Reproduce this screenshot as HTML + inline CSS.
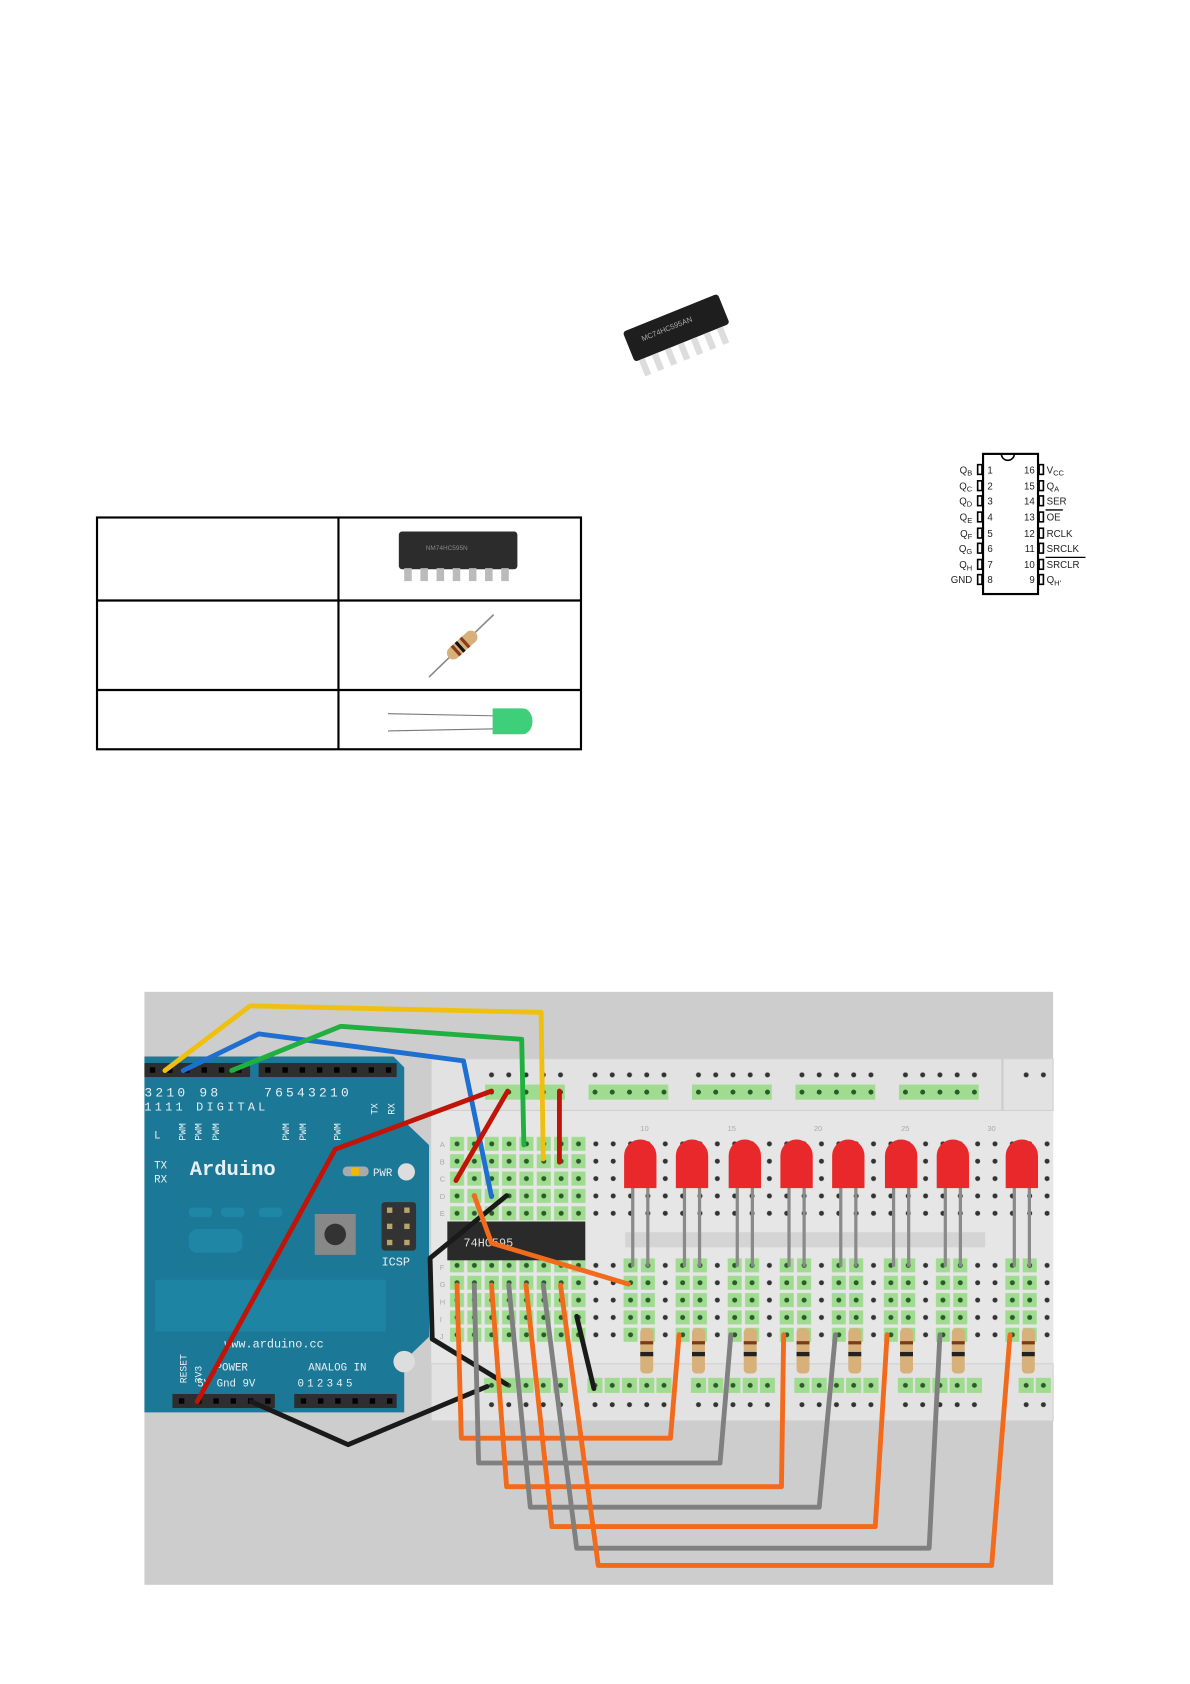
<!DOCTYPE html>
<html><head><meta charset="utf-8"><style>
html,body{margin:0;padding:0;background:#fff;}
svg{display:block}
</style></head><body>
<svg width="1190" height="1684" viewBox="0 0 1104 1562" preserveAspectRatio="none" xmlns="http://www.w3.org/2000/svg" font-family="Liberation Sans, sans-serif">
<defs>
<pattern id="holes" x="416" y="1053" width="16.1" height="16.1" patternUnits="userSpaceOnUse">
<circle cx="8" cy="8" r="2.3" fill="#333"/></pattern>
<pattern id="gh" x="416" y="1053" width="16.1" height="16.1" patternUnits="userSpaceOnUse">
<rect x="1.5" y="1.5" width="13" height="13" fill="#9fdc8f"/><circle cx="8" cy="8" r="2.3" fill="#2a5a2a"/></pattern>
<pattern id="rh" x="0" y="989" width="16" height="16.1" patternUnits="userSpaceOnUse">
<circle cx="8" cy="8" r="2.3" fill="#333"/></pattern>
<pattern id="rg" x="0" y="1278" width="16" height="14" patternUnits="userSpaceOnUse">
<rect x="1" y="0" width="14" height="14" fill="#9fdc8f"/><circle cx="8" cy="7" r="2.3" fill="#2a5a2a"/></pattern>
</defs>
<!-- table -->
<rect x="90" y="480" width="449" height="215" fill="none" stroke="#000" stroke-width="2"/>
<line x1="314" y1="480" x2="314" y2="695" stroke="#000" stroke-width="2"/>
<line x1="90" y1="557" x2="539" y2="557" stroke="#000" stroke-width="2"/>
<line x1="90" y1="640" x2="539" y2="640" stroke="#000" stroke-width="2"/>
<rect x="370" y="493" width="110" height="35" rx="3" fill="#2c2c2c"/>
<g fill="#bbb"><rect x="375" y="527" width="7" height="12"/><rect x="390" y="527" width="7" height="12"/><rect x="405" y="527" width="7" height="12"/><rect x="420" y="527" width="7" height="12"/><rect x="435" y="527" width="7" height="12"/><rect x="450" y="527" width="7" height="12"/><rect x="465" y="527" width="7" height="12"/></g>
<text x="395" y="510" font-size="6" fill="#888">NM74HC595N</text>
<line x1="398" y1="628" x2="458" y2="570" stroke="#888" stroke-width="1.5"/>
<g transform="rotate(-42 428 599)"><rect x="412" y="593" width="34" height="12" rx="6" fill="#d7b07a"/><rect x="420" y="593" width="3" height="12" fill="#8b3a1a"/><rect x="425" y="593" width="3" height="12" fill="#111"/><rect x="431" y="593" width="3" height="12" fill="#8b3a1a"/></g>
<line x1="360" y1="662" x2="460" y2="664" stroke="#777" stroke-width="1"/>
<line x1="360" y1="678" x2="460" y2="676" stroke="#777" stroke-width="1"/>
<path d="M457 657 H485 a9 12 0 0 1 0 24 H457 Z" fill="#3fcf7a"/>
<!-- chip photo top -->
<g transform="rotate(-22 625 305)">
<rect x="580" y="290" width="95" height="30" rx="3" fill="#1e1e1e"/>
<g fill="#ddd"><rect x="584" y="320" width="6" height="16"/><rect x="597" y="320" width="6" height="16"/><rect x="610" y="320" width="6" height="16"/><rect x="623" y="320" width="6" height="16"/><rect x="636" y="320" width="6" height="16"/><rect x="649" y="320" width="6" height="16"/><rect x="662" y="320" width="6" height="16"/></g>
<text x="594" y="305" font-size="7" fill="#aaa">MC74HC595AN</text></g>
<!-- pinout -->
<rect x="912" y="421" width="51" height="130" fill="#fff" stroke="#000" stroke-width="2"/>
<path d="M929 421 a6 6 0 0 0 12 0" fill="none" stroke="#000" stroke-width="1.5"/>
<g font-size="9" fill="#222">
<g stroke="#000" stroke-width="1.5" fill="none">
<rect x="907" y="431" width="4" height="9"/><rect x="907" y="446" width="4" height="9"/><rect x="907" y="460" width="4" height="9"/><rect x="907" y="475" width="4" height="9"/><rect x="907" y="490" width="4" height="9"/><rect x="907" y="504" width="4" height="9"/><rect x="907" y="519" width="4" height="9"/><rect x="907" y="533" width="4" height="9"/>
<rect x="964" y="431" width="4" height="9"/><rect x="964" y="446" width="4" height="9"/><rect x="964" y="460" width="4" height="9"/><rect x="964" y="475" width="4" height="9"/><rect x="964" y="490" width="4" height="9"/><rect x="964" y="504" width="4" height="9"/><rect x="964" y="519" width="4" height="9"/><rect x="964" y="533" width="4" height="9"/></g>
<text x="916" y="439">1</text><text x="916" y="454">2</text><text x="916" y="468">3</text><text x="916" y="483">4</text><text x="916" y="498">5</text><text x="916" y="512">6</text><text x="916" y="527">7</text><text x="916" y="541">8</text>
<g text-anchor="end"><text x="960" y="439">16</text><text x="960" y="454">15</text><text x="960" y="468">14</text><text x="960" y="483">13</text><text x="960" y="498">12</text><text x="960" y="512">11</text><text x="960" y="527">10</text><text x="960" y="541">9</text>
<text x="902" y="439">Q<tspan font-size="7" dy="2">B</tspan></text><text x="902" y="454">Q<tspan font-size="7" dy="2">C</tspan></text><text x="902" y="468">Q<tspan font-size="7" dy="2">D</tspan></text><text x="902" y="483">Q<tspan font-size="7" dy="2">E</tspan></text><text x="902" y="498">Q<tspan font-size="7" dy="2">F</tspan></text><text x="902" y="512">Q<tspan font-size="7" dy="2">G</tspan></text><text x="902" y="527">Q<tspan font-size="7" dy="2">H</tspan></text><text x="902" y="541">GND</text></g>
<text x="971" y="439">V<tspan font-size="7" dy="2">CC</tspan></text><text x="971" y="454">Q<tspan font-size="7" dy="2">A</tspan></text><text x="971" y="468">SER</text><text x="971" y="483">OE</text><text x="971" y="498">RCLK</text><text x="971" y="512">SRCLK</text><text x="971" y="527">SRCLR</text><text x="971" y="541">Q<tspan font-size="7" dy="2">H'</tspan></text>
<line x1="970" y1="473" x2="986" y2="473" stroke="#000" stroke-width="1.2"/><line x1="970" y1="517" x2="1007" y2="517" stroke="#000" stroke-width="1.2"/>
</g>
<!-- breadboard scene -->
<rect x="134" y="920" width="843" height="550" fill="#cdcdcd"/>
<rect x="400" y="982" width="577" height="336" fill="#e6e6e6"/>
<rect x="400" y="982" width="577" height="48" fill="#e2e2e2" stroke="#d0d0d0"/>
<line x1="930" y1="982" x2="930" y2="1030" stroke="#ccc" stroke-width="2"/>
<rect x="400" y="1265" width="577" height="53" fill="#e2e2e2" stroke="#d0d0d0"/>
<rect x="580" y="1143" width="334" height="14" fill="#d4d4d4"/>
<rect x="448" y="989" width="80" height="16" fill="url(#rh)"/><rect x="544" y="989" width="80" height="16" fill="url(#rh)"/><rect x="640" y="989" width="80" height="16" fill="url(#rh)"/><rect x="736" y="989" width="80" height="16" fill="url(#rh)"/><rect x="832" y="989" width="80" height="16" fill="url(#rh)"/><rect x="944" y="989" width="33" height="16" fill="url(#rh)"/>
<g fill="#9fdc8f"><rect x="450" y="1006" width="74" height="14"/><rect x="546" y="1006" width="74" height="14"/><rect x="642" y="1006" width="74" height="14"/><rect x="738" y="1006" width="74" height="14"/><rect x="834" y="1006" width="74" height="14"/></g>
<g fill="#2a5a2a">
<circle cx="456" cy="1013" r="2.3"/><circle cx="472" cy="1013" r="2.3"/><circle cx="488" cy="1013" r="2.3"/><circle cx="504" cy="1013" r="2.3"/><circle cx="520" cy="1013" r="2.3"/>
<circle cx="552" cy="1013" r="2.3"/><circle cx="568" cy="1013" r="2.3"/><circle cx="584" cy="1013" r="2.3"/><circle cx="600" cy="1013" r="2.3"/><circle cx="616" cy="1013" r="2.3"/>
<circle cx="648" cy="1013" r="2.3"/><circle cx="664" cy="1013" r="2.3"/><circle cx="680" cy="1013" r="2.3"/><circle cx="696" cy="1013" r="2.3"/><circle cx="712" cy="1013" r="2.3"/>
<circle cx="744" cy="1013" r="2.3"/><circle cx="760" cy="1013" r="2.3"/><circle cx="776" cy="1013" r="2.3"/><circle cx="792" cy="1013" r="2.3"/><circle cx="808" cy="1013" r="2.3"/>
<circle cx="840" cy="1013" r="2.3"/><circle cx="856" cy="1013" r="2.3"/><circle cx="872" cy="1013" r="2.3"/><circle cx="888" cy="1013" r="2.3"/><circle cx="904" cy="1013" r="2.3"/></g>
<rect x="448" y="1278" width="80" height="14" fill="url(#rg)"/><rect x="544" y="1278" width="80" height="14" fill="url(#rg)"/><rect x="640" y="1278" width="80" height="14" fill="url(#rg)"/><rect x="736" y="1278" width="80" height="14" fill="url(#rg)"/><rect x="832" y="1278" width="80" height="14" fill="url(#rg)"/><rect x="944" y="1278" width="33" height="14" fill="url(#rg)"/>
<rect x="448" y="1294" width="80" height="16" fill="url(#rh)"/><rect x="544" y="1294" width="80" height="16" fill="url(#rh)"/><rect x="640" y="1294" width="80" height="16" fill="url(#rh)"/><rect x="736" y="1294" width="80" height="16" fill="url(#rh)"/><rect x="832" y="1294" width="80" height="16" fill="url(#rh)"/><rect x="944" y="1294" width="33" height="16" fill="url(#rh)"/>
<rect x="416" y="1053" width="561" height="80" fill="url(#holes)"/>
<rect x="416" y="1166" width="561" height="81" fill="url(#holes)"/>
<rect x="416" y="1053" width="129" height="80" fill="url(#gh)"/>
<rect x="416" y="1166" width="129" height="81" fill="url(#gh)"/>
<g fill="url(#gh)">
<rect x="577" y="1166" width="32" height="81"/><rect x="625" y="1166" width="32" height="81"/><rect x="674" y="1166" width="32" height="81"/><rect x="722" y="1166" width="32" height="81"/><rect x="770" y="1166" width="32" height="81"/><rect x="819" y="1166" width="32" height="81"/><rect x="867" y="1166" width="32" height="81"/><rect x="931" y="1166" width="32" height="81"/></g>
<g font-size="7" fill="#aaa"><text x="408" y="1064">A</text><text x="408" y="1080">B</text><text x="408" y="1096">C</text><text x="408" y="1112">D</text><text x="408" y="1128">E</text><text x="408" y="1178">F</text><text x="408" y="1194">G</text><text x="408" y="1210">H</text><text x="408" y="1226">I</text><text x="408" y="1242">J</text>
<text x="594" y="1049">10</text><text x="675" y="1049">15</text><text x="755" y="1049">20</text><text x="836" y="1049">25</text><text x="916" y="1049">30</text></g>
<!-- arduino -->
<path d="M134 980 H365 L375 990 V1040 L398 1062 V1240 L375 1262 V1310 H134 Z" fill="#1b7896"/>
<rect x="134" y="986" width="98" height="13" fill="#2e2e2e"/><rect x="240" y="986" width="128" height="13" fill="#2e2e2e"/>
<rect x="160" y="1293" width="95" height="13" fill="#2e2e2e"/><rect x="273" y="1293" width="95" height="13" fill="#2e2e2e"/>
<g fill="#000"><rect x="139" y="990" width="5" height="5"/><rect x="155" y="990" width="5" height="5"/><rect x="171" y="990" width="5" height="5"/><rect x="187" y="990" width="5" height="5"/><rect x="203" y="990" width="5" height="5"/><rect x="219" y="990" width="5" height="5"/>
<rect x="246" y="990" width="5" height="5"/><rect x="262" y="990" width="5" height="5"/><rect x="278" y="990" width="5" height="5"/><rect x="294" y="990" width="5" height="5"/><rect x="310" y="990" width="5" height="5"/><rect x="326" y="990" width="5" height="5"/><rect x="342" y="990" width="5" height="5"/><rect x="358" y="990" width="5" height="5"/>
<rect x="166" y="1297" width="5" height="5"/><rect x="182" y="1297" width="5" height="5"/><rect x="198" y="1297" width="5" height="5"/><rect x="214" y="1297" width="5" height="5"/><rect x="230" y="1297" width="5" height="5"/><rect x="246" y="1297" width="5" height="5"/>
<rect x="279" y="1297" width="5" height="5"/><rect x="295" y="1297" width="5" height="5"/><rect x="311" y="1297" width="5" height="5"/><rect x="327" y="1297" width="5" height="5"/><rect x="343" y="1297" width="5" height="5"/><rect x="359" y="1297" width="5" height="5"/></g>
<rect x="144" y="1187" width="214" height="48" fill="#1d84a3"/>
<g fill="#1f86a5"><rect x="175" y="1120" width="22" height="9" rx="4"/><rect x="205" y="1120" width="22" height="9" rx="4"/><rect x="240" y="1120" width="22" height="9" rx="4"/><rect x="175" y="1140" width="50" height="22" rx="8"/></g>
<rect x="292" y="1126" width="38" height="38" fill="#888"/><circle cx="311" cy="1145" r="10" fill="#333"/>
<rect x="318" y="1082" width="24" height="9" rx="4" fill="#aaa"/><rect x="326" y="1083" width="7" height="7" fill="#f5b800"/>
<circle cx="377" cy="1087" r="8" fill="#ddd"/><circle cx="375" cy="1263" r="10" fill="#ddd"/>
<rect x="354" y="1115" width="32" height="45" rx="3" fill="#333"/>
<g fill="#b9a46a"><rect x="359" y="1120" width="5" height="5"/><rect x="375" y="1120" width="5" height="5"/><rect x="359" y="1135" width="5" height="5"/><rect x="375" y="1135" width="5" height="5"/><rect x="359" y="1150" width="5" height="5"/><rect x="375" y="1150" width="5" height="5"/></g>
<g fill="#e8f0f4" font-family="Liberation Mono, monospace">
<text x="134" y="1017" font-size="12" letter-spacing="3">3210 98</text>
<text x="245" y="1017" font-size="12" letter-spacing="3">76543210</text>
<text x="134" y="1030" font-size="11" letter-spacing="3">1111 DIGITAL</text>
<text x="176" y="1090" font-size="19" font-weight="bold">Arduino</text>
<text x="143" y="1084" font-size="10">TX</text><text x="143" y="1097" font-size="10">RX</text>
<text x="143" y="1056" font-size="10">L</text>
<text x="346" y="1091" font-size="10">PWR</text>
<text x="354" y="1174" font-size="11">ICSP</text>
<text x="208" y="1250" font-size="11">www.arduino.cc</text>
<text x="200" y="1271" font-size="10">POWER</text><text x="286" y="1271" font-size="10">ANALOG IN</text>
<text x="183" y="1286" font-size="10">5V Gnd 9V</text><text x="276" y="1286" font-size="10" letter-spacing="3">012345</text>
<g font-size="9"><text transform="translate(173,1283) rotate(-90)">RESET</text><text transform="translate(187,1283) rotate(-90)">3V3</text>
<text transform="translate(172,1058) rotate(-90)">PWM</text><text transform="translate(187,1058) rotate(-90)">PWM</text><text transform="translate(203,1058) rotate(-90)">PWM</text>
<text transform="translate(268,1058) rotate(-90)">PWM</text><text transform="translate(284,1058) rotate(-90)">PWM</text><text transform="translate(316,1058) rotate(-90)">PWM</text>
<text transform="translate(350,1034) rotate(-90)">TX</text><text transform="translate(366,1034) rotate(-90)">RX</text></g>
</g>
<rect x="415" y="1133" width="128" height="36" fill="#2a2a2a"/>
<text x="430" y="1156" font-size="11" fill="#ddd" font-family="Liberation Mono, monospace">74HC595</text>
<g stroke="#8a8a8a" stroke-width="3" fill="none">
<path d="M587 1100 V1175 M601 1100 V1175"/><path d="M635 1100 V1175 M649 1100 V1175"/><path d="M684 1100 V1175 M698 1100 V1175"/><path d="M732 1100 V1175 M746 1100 V1175"/><path d="M780 1100 V1175 M794 1100 V1175"/><path d="M829 1100 V1175 M843 1100 V1175"/><path d="M877 1100 V1175 M891 1100 V1175"/><path d="M941 1100 V1175 M955 1100 V1175"/></g>
<g fill="#e8282a">
<path d="M579 1102 V1072 a15 15 0 0 1 30 0 V1102 Z"/><path d="M627 1102 V1072 a15 15 0 0 1 30 0 V1102 Z"/><path d="M676 1102 V1072 a15 15 0 0 1 30 0 V1102 Z"/><path d="M724 1102 V1072 a15 15 0 0 1 30 0 V1102 Z"/><path d="M772 1102 V1072 a15 15 0 0 1 30 0 V1102 Z"/><path d="M821 1102 V1072 a15 15 0 0 1 30 0 V1102 Z"/><path d="M869 1102 V1072 a15 15 0 0 1 30 0 V1102 Z"/><path d="M933 1102 V1072 a15 15 0 0 1 30 0 V1102 Z"/></g>
<g fill="#d7b07a"><rect x="594" y="1232" width="12" height="42" rx="4"/><rect x="642" y="1232" width="12" height="42" rx="4"/><rect x="690" y="1232" width="12" height="42" rx="4"/><rect x="739" y="1232" width="12" height="42" rx="4"/><rect x="787" y="1232" width="12" height="42" rx="4"/><rect x="835" y="1232" width="12" height="42" rx="4"/><rect x="883" y="1232" width="12" height="42" rx="4"/><rect x="948" y="1232" width="12" height="42" rx="4"/></g>
<g fill="#222"><rect x="594" y="1254" width="12" height="4"/><rect x="642" y="1254" width="12" height="4"/><rect x="690" y="1254" width="12" height="4"/><rect x="739" y="1254" width="12" height="4"/><rect x="787" y="1254" width="12" height="4"/><rect x="835" y="1254" width="12" height="4"/><rect x="883" y="1254" width="12" height="4"/><rect x="948" y="1254" width="12" height="4"/></g>
<g fill="#7a3b1a"><rect x="594" y="1244" width="12" height="3"/><rect x="642" y="1244" width="12" height="3"/><rect x="690" y="1244" width="12" height="3"/><rect x="739" y="1244" width="12" height="3"/><rect x="787" y="1244" width="12" height="3"/><rect x="835" y="1244" width="12" height="3"/><rect x="883" y="1244" width="12" height="3"/><rect x="948" y="1244" width="12" height="3"/></g>
<g fill="none" stroke-width="4.5" stroke-linejoin="round" stroke-linecap="round">
<polyline stroke="#f0c010" points="153,993 232,933 502,939 504,1075"/>
<polyline stroke="#1e6fd0" points="170,993 240,959 430,984 456,1110"/>
<polyline stroke="#20b040" points="215,993 316,952 484,964 486,1062"/>
<polyline stroke="#c01408" points="183,1300 311,1066 456,1012"/>
<polyline stroke="#c01408" points="423,1095 471,1012"/>
<polyline stroke="#c01408" points="519,1012 519,1078"/>
<polyline stroke="#1a1a1a" points="470,1109 399,1167 401,1242 470,1284"/>
<polyline stroke="#1a1a1a" points="233,1300 323,1340 452,1286"/>
<polyline stroke="#1a1a1a" points="535,1221 551,1288"/>
<polyline stroke="#f26a1b" points="440,1109 456,1153 583,1191"/>
<polyline stroke="#f26a1b" points="424,1192 428,1334 622,1334 630,1238"/>
<polyline stroke="#808080" points="440,1192 444,1357 668,1357 678,1238"/>
<polyline stroke="#f26a1b" points="456,1192 470,1379 725,1379 727,1238"/>
<polyline stroke="#808080" points="472,1192 492,1398 760,1398 775,1238"/>
<polyline stroke="#f26a1b" points="488,1192 512,1416 812,1416 823,1238"/>
<polyline stroke="#808080" points="504,1192 535,1436 862,1436 872,1238"/>
<polyline stroke="#f26a1b" points="520,1192 555,1452 920,1452 937,1238"/>
</g>
</svg>
</body></html>
